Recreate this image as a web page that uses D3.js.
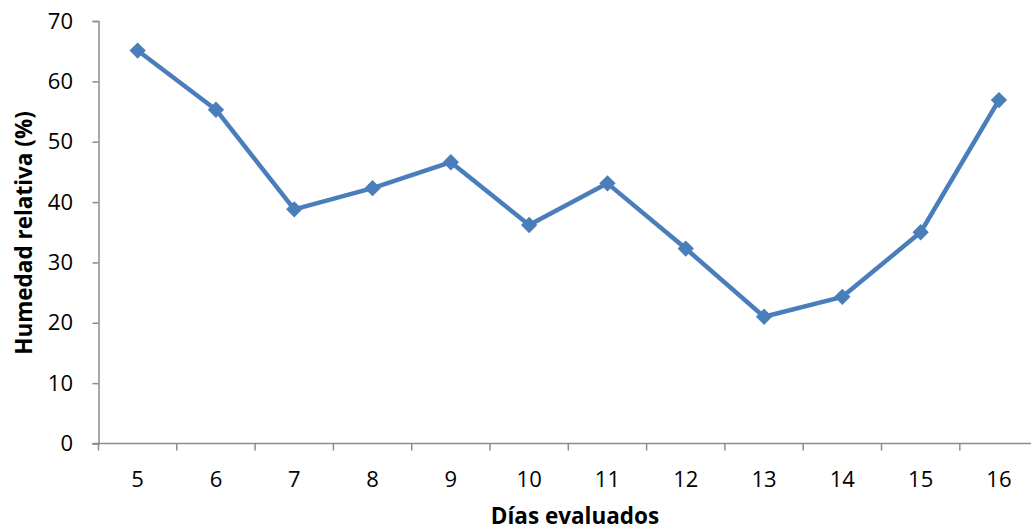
<!DOCTYPE html>
<html>
<head>
<meta charset="utf-8">
<script src="https://cdn.jsdelivr.net/npm/d3@7"></script>
<style>
  html, body { margin: 0; padding: 0; background: #fff; }
  svg { display: block; font-family: "Open Sans", sans-serif; }
</style>
</head>
<body>
<svg id="chart" width="1031" height="531"></svg>
<script>
// Days evaluated and relative humidity (%)
const dias = ["5", "6", "7", "8", "9", "10", "11", "12", "13", "14", "15", "16"];
const humedad = [65.1, 55.3, 38.8, 42.3, 46.6, 36.2, 43.1, 32.3, 21.0, 24.3, 35.0, 56.9];
const yTicks = [0, 10, 20, 30, 40, 50, 60, 70];

const svg = d3.select("#chart");
const plotLeft = 98.5, plotTop = 21, plotBottom = 443.5, bandW = 78.3;
const plotRight = plotLeft + bandW * dias.length;

const x = d3.scaleBand().domain(dias).range([plotLeft, plotRight]);
const y = d3.scaleLinear().domain([0, 70]).range([plotBottom, plotTop]);

const axisColor = "#8c8c8c";
const fontFam = "'Open Sans', sans-serif";

// Y axis
const yAxis = svg.append("g")
  .attr("transform", `translate(${plotLeft},0)`)
  .call(d3.axisLeft(y).tickValues(yTicks).tickSize(6).tickPadding(19.5));
yAxis.select(".domain").attr("stroke", axisColor).attr("stroke-width", 1.5);
yAxis.selectAll(".tick line").attr("stroke", axisColor).attr("stroke-width", 1.5);
yAxis.selectAll(".tick text").attr("font-size", 22).attr("fill", "#000")
  .attr("font-family", fontFam);

// X axis: ticks sit on category boundaries
const xAxisG = svg.append("g").attr("transform", `translate(0,${plotBottom})`);
xAxisG.append("line")
  .attr("x1", plotLeft - 6).attr("x2", plotRight)
  .attr("stroke", axisColor).attr("stroke-width", 1.5);
xAxisG.selectAll("line.tick")
  .data(dias)
  .join("line")
  .attr("class", "tick")
  .attr("x1", d => x(d)).attr("x2", d => x(d))
  .attr("y1", 0).attr("y2", 7)
  .attr("stroke", axisColor).attr("stroke-width", 1.5);
xAxisG.selectAll("text")
  .data(dias)
  .join("text")
  .attr("x", d => x(d) + x.bandwidth() / 2)
  .attr("y", 43.5)
  .attr("text-anchor", "middle")
  .attr("font-size", 22)
  .attr("fill", "#000")
  .text(d => d);

// Axis titles
svg.append("text")
  .attr("x", 575).attr("y", 524)
  .attr("text-anchor", "middle")
  .attr("font-size", 22.5).attr("font-weight", "bold")
  .text("Días evaluados");

svg.append("text")
  .attr("transform", "translate(32,233) rotate(-90)")
  .attr("text-anchor", "middle")
  .attr("font-size", 22.5).attr("font-weight", "bold")
  .text("Humedad relativa (%)");

// Series line
const blue = "#4a7ebb";
const cx = d => x(d) + x.bandwidth() / 2;
const line = d3.line().x((v, i) => cx(dias[i])).y(v => y(v));

svg.append("path")
  .datum(humedad)
  .attr("d", line)
  .attr("fill", "none")
  .attr("stroke", blue)
  .attr("stroke-width", 4.5)
  .attr("stroke-linejoin", "round");

// Diamond markers
const diamond = d3.symbol().type(d3.symbolDiamond2).size(170);
svg.selectAll("path.marker")
  .data(humedad)
  .join("path")
  .attr("class", "marker")
  .attr("d", diamond)
  .attr("transform", (v, i) => `translate(${cx(dias[i])},${y(v)})`)
  .attr("fill", blue);
</script>
</body>
</html>
